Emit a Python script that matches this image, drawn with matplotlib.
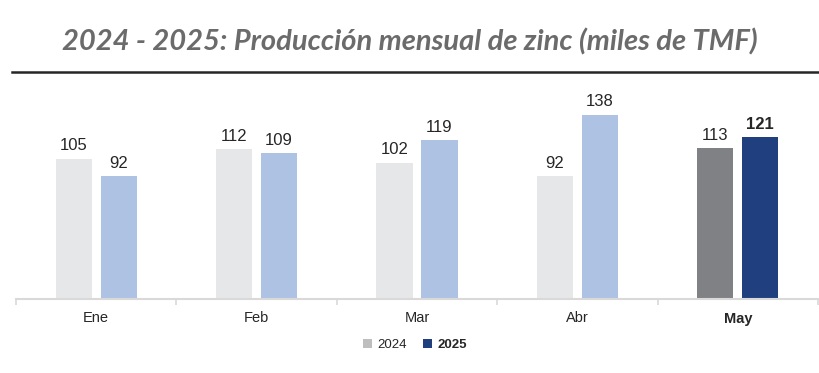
import matplotlib
matplotlib.use("Agg")
import matplotlib.pyplot as plt
from matplotlib.patches import Patch
from matplotlib.lines import Line2D
import numpy as np

months = ["Ene", "Feb", "Mar", "Abr", "May"]
values_2024 = [105, 112, 102, 92, 113]
values_2025 = [92, 109, 119, 138, 121]
series_names = ["2024", "2025"]
title = "2024 - 2025: Producción mensual de zinc (miles de TMF)"

c24 = ["#E6E7E8"] * 4 + ["#808184"]
c25 = ["#AEC2E4"] * 4 + ["#1F3F7F"]

fig = plt.figure(figsize=(8.19, 3.73), dpi=100)
ax = fig.add_axes([16 / 819, 74 / 373, 802 / 819, 219 / 373])

x = np.arange(len(months))
w = 0.225
off = 0.14
b1 = ax.bar(x - off, values_2024, w, color=c24, zorder=2)
b2 = ax.bar(x + off, values_2025, w, color=c25, zorder=2)

last = len(months) - 1
for i, (r, v) in enumerate(zip(b1, values_2024)):
    ax.annotate(f"{v}", (r.get_x() + r.get_width() / 2, v), xytext=(0, 4),
                textcoords="offset points", ha="center", va="bottom",
                fontsize=12, color="#262626", family="Liberation Sans")
for i, (r, v) in enumerate(zip(b2, values_2025)):
    ax.annotate(f"{v}", (r.get_x() + r.get_width() / 2, v), xytext=(0, 4),
                textcoords="offset points", ha="center", va="bottom",
                fontsize=12, color="#262626", family="Liberation Sans",
                fontweight="bold" if i == last else "normal")

ax.set_xlim(-0.5, len(months) - 0.5)
ax.set_ylim(0, 164)
for s in ["top", "right", "left"]:
    ax.spines[s].set_visible(False)
ax.spines["bottom"].set_color("#D9D9D9")
ax.spines["bottom"].set_linewidth(1.5)
ax.set_yticks([])
ax.set_xticks(np.arange(len(months) + 1) - 0.5)
ax.set_xticklabels([])
ax.tick_params(axis="x", which="major", length=4, color="#D9D9D9", width=1.2)
ax.set_xticks(x, minor=True)
ax.set_xticklabels(months, minor=True, family="Liberation Sans", fontsize=10.5, color="#262626")
ax.tick_params(axis="x", which="minor", length=0, pad=9)
ax.get_xticklabels(minor=True)[last].set_fontweight("bold")

fig.text(0.5, 1 - 42 / 373, title, ha="center", va="center", fontsize=21,
         fontstyle="italic", fontweight="bold", color="#6B6B6B", family="Lato")
fig.add_artist(Line2D([12 / 819, 1.0], [1 - 72 / 373] * 2, color="#262626", lw=1.8))

handles = [Patch(facecolor="#BEBEBE"), Patch(facecolor="#1F3F7F")]
leg = fig.legend(handles, series_names, loc="center", bbox_to_anchor=(415 / 819, 1 - 345 / 373),
                 ncol=2, frameon=False, handlelength=0.7, handleheight=0.7, handletextpad=0.4,
                 columnspacing=1.2, prop={"family": "Liberation Sans", "size": 9.5})
leg.get_texts()[1].set_fontweight("bold")
for t in leg.get_texts():
    t.set_color("#262626")

fig.savefig("out.png", dpi=100)
